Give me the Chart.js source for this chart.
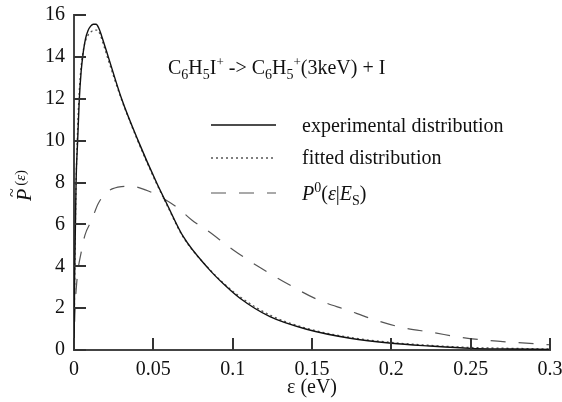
<!DOCTYPE html>
<html>
<head>
<meta charset="utf-8">
<script src="https://cdn.jsdelivr.net/npm/chart.js@4.4.0/dist/chart.umd.min.js"></script>
<style>
  html, body { margin: 0; padding: 0; background: #fff; }
  #wrap { width: 562px; height: 402px; }
</style>
</head>
<body>
<div id="wrap"><canvas id="chart" width="562" height="402"></canvas></div>
<script>
// experimental distribution (solid)
const expX = [0, 0.0004, 0.0013, 0.0023, 0.0033, 0.0045, 0.0058, 0.0072, 0.0088, 0.0105, 0.0122, 0.0139, 0.0156, 0.0174, 0.0216, 0.030, 0.0404, 0.052, 0.0584, 0.0689, 0.0846, 0.095, 0.1046, 0.1235, 0.1466, 0.174, 0.2002, 0.224, 0.25, 0.275, 0.3];
const expY = [0, 3.5, 8.0, 10.0, 11.9, 13.3, 14.2, 14.85, 15.25, 15.47, 15.56, 15.56, 15.38, 15.0, 14.0, 12.0, 10.0, 8.0, 7.0, 5.41, 3.90, 3.10, 2.47, 1.59, 0.99, 0.56, 0.32, 0.19, 0.08, 0.05, 0.03];

// fitted distribution (dotted)
const fitX = [0, 0.0004, 0.0012, 0.002, 0.003, 0.0042, 0.0056, 0.0072, 0.009, 0.0108, 0.0128, 0.0147, 0.0163, 0.0185, 0.0216, 0.030, 0.0404, 0.052, 0.0584, 0.0689, 0.0846, 0.095, 0.105, 0.124, 0.147, 0.174, 0.200, 0.225, 0.25, 0.275, 0.3];
const fitY = [0, 3.0, 7.5, 9.9, 11.9, 13.3, 14.2, 14.75, 15.05, 15.2, 15.27, 15.28, 15.1, 14.6, 13.85, 11.95, 9.95, 7.95, 6.95, 5.38, 3.92, 3.14, 2.52, 1.65, 1.03, 0.60, 0.36, 0.22, 0.12, 0.08, 0.05];

// P0(eps|Es) (dashed)
const p0X = [0, 0.0005, 0.0017, 0.0048, 0.0069, 0.0111, 0.0153, 0.0216, 0.030, 0.036, 0.045, 0.0563, 0.0657, 0.0742, 0.0836, 0.1004, 0.118, 0.136, 0.154, 0.172, 0.19, 0.207, 0.226, 0.244, 0.262, 0.28, 0.3];
const p0Y = [0, 1.6, 3.2, 4.78, 5.49, 6.2, 7.0, 7.58, 7.8, 7.82, 7.65, 7.24, 6.77, 6.21, 5.73, 4.78, 3.90, 3.10, 2.39, 1.91, 1.43, 1.07, 0.84, 0.60, 0.45, 0.35, 0.25];

const xTickLabels = ['0', '0.05', '0.1', '0.15', '0.2', '0.25', '0.3'];
const yTickLabels = ['0', '2', '4', '6', '8', '10', '12', '14', '16'];

const serif = '"Liberation Serif", "DejaVu Serif", "Noto Serif", Tinos, FreeSerif, "Times New Roman", serif';

function toPoints(xs, ys) {
    return xs.map((x, i) => ({ x: x, y: ys[i] }));
}

// draws a run of pieces [text, size, dy, italic]
function drawRuns(ctx, x, y, runs) {
    runs.forEach(r => {
        ctx.font = (r[3] ? 'italic ' : '') + r[1] + 'px ' + serif;
        ctx.fillText(r[0], x, y + r[2]);
        x += ctx.measureText(r[0]).width;
    });
    return x;
}

const annotations = {
    id: 'annotations',
    afterDraw(chart) {
        const ctx = chart.ctx;
        const xs = chart.scales.x, ys = chart.scales.y;
        const area = chart.chartArea;
        ctx.save();
        ctx.setLineDash([]);

        // inward tick marks
        ctx.fillStyle = '#333';
        xTickLabels.forEach(lbl => {
            const px = Math.round(xs.getPixelForValue(parseFloat(lbl)));
            ctx.fillRect(px - 1, area.bottom - 12, 2, 12);
        });
        yTickLabels.forEach(lbl => {
            const py = Math.round(ys.getPixelForValue(parseFloat(lbl)));
            ctx.fillRect(area.left, py - 1, 12, 2);
        });

        ctx.fillStyle = '#111';
        ctx.textBaseline = 'alphabetic';
        ctx.textAlign = 'left';

        // title
        drawRuns(ctx, 168, 74, [
            ['C', 20, 0], ['6', 14, 5], ['H', 20, 0], ['5', 14, 5], ['I', 20, 0], ['+', 13, -8],
            [' -> C', 20, 0], ['6', 14, 5], ['H', 20, 0], ['5', 14, 5], ['+', 13, -8],
            ['(3keV) + I', 20, 0]
        ]);

        // legend
        const ds = chart.data.datasets;
        const rows = [125, 158, 193];
        ds.forEach((d, i) => {
            ctx.beginPath();
            ctx.strokeStyle = d.borderColor;
            ctx.lineWidth = d.borderWidth;
            ctx.setLineDash(d.borderDash || []);
            ctx.moveTo(211, rows[i]);
            ctx.lineTo(276, rows[i]);
            ctx.stroke();
        });
        ctx.setLineDash([]);
        ctx.fillStyle = '#111';
        drawRuns(ctx, 302, 132, [['experimental distribution', 20, 0]]);
        drawRuns(ctx, 302, 164, [['fitted distribution', 20, 0]]);
        drawRuns(ctx, 302, 200, [
            ['P', 20, 0, true], ['0', 14, -8], ['(', 20, 0], ['\u03b5', 20, 0, true], ['|', 20, 0],
            ['E', 20, 0, true], ['S', 14, 5], [')', 20, 0]
        ]);

        // y axis title, rotated
        ctx.translate(31, 201);
        ctx.rotate(-Math.PI / 2);
        const endP = drawRuns(ctx, 0, 0, [['P', 20, 0, true]]);
        ctx.font = '16px ' + serif;
        ctx.fillText('~', 4, -14);
        drawRuns(ctx, endP + 3, 0, [['(', 15, -6], ['\u03b5', 15, -6, true], [')', 15, -6]]);
        ctx.restore();
    }
};

new Chart(document.getElementById('chart'), {
    type: 'line',
    data: {
        datasets: [
            {
                label: 'experimental distribution',
                data: toPoints(expX, expY),
                borderColor: '#111',
                borderWidth: 1.4,
                pointRadius: 0,
                cubicInterpolationMode: 'monotone'
            },
            {
                label: 'fitted distribution',
                data: toPoints(fitX, fitY),
                borderColor: '#555',
                borderWidth: 1.3,
                borderDash: [2, 3],
                pointRadius: 0,
                cubicInterpolationMode: 'monotone'
            },
            {
                label: 'P0',
                data: toPoints(p0X, p0Y),
                borderColor: '#555',
                borderWidth: 1.2,
                borderDash: [15, 13],
                pointRadius: 0,
                cubicInterpolationMode: 'monotone'
            }
        ]
    },
    options: {
        responsive: false,
        animation: false,
        layout: { padding: { left: 0, right: 12, top: 15, bottom: 0 } },
        plugins: {
            legend: { display: false },
            tooltip: { enabled: false }
        },
        scales: {
            x: {
                type: 'linear',
                min: 0,
                max: 0.3,
                afterFit: s => { s.height = 52; s.paddingLeft = 0; s.paddingRight = 0; },
                ticks: {
                    stepSize: 0.05,
                    padding: 8,
                    color: '#111',
                    font: { family: serif, size: 20 },
                    maxRotation: 0,
                    callback: (v, i) => xTickLabels[i]
                },
                grid: { drawOnChartArea: false, drawTicks: false },
                border: { color: '#444', width: 2 },
                title: {
                    display: true,
                    text: '\u03b5 (eV)',
                    color: '#111',
                    font: { family: serif, size: 20 },
                    padding: { top: 0, bottom: 2 }
                }
            },
            y: {
                min: 0,
                max: 16,
                afterFit: s => { s.width = 74; s.paddingTop = 0; s.paddingBottom = 0; },
                ticks: {
                    stepSize: 2,
                    padding: 9,
                    color: '#111',
                    font: { family: serif, size: 20 },
                    callback: (v, i) => yTickLabels[i]
                },
                grid: { drawOnChartArea: false, drawTicks: false },
                border: { color: '#444', width: 2 }
            }
        }
    },
    plugins: [annotations]
});
</script>
</body>
</html>
